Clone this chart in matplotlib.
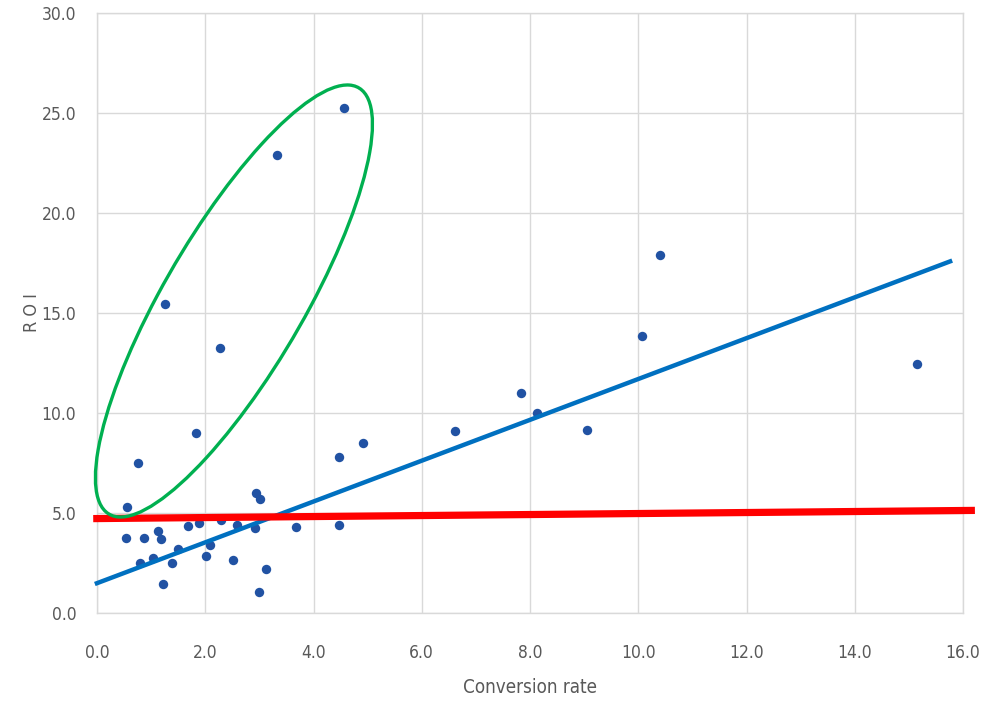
import numpy as np
import matplotlib
matplotlib.use("Agg")
import matplotlib.pyplot as plt
from matplotlib.patches import Ellipse

plt.rcParams['font.family'] = ['DejaVu Sans']
plt.rcParams['font.stretch'] = 'condensed'

# ---- data ----
conv_rate = [1.83, 0.75, 0.55, 0.54, 0.87, 1.12, 1.18, 0.79, 1.04, 1.39,
             1.49, 1.22, 1.68, 1.89, 2.30, 2.02, 2.09, 2.51, 2.59, 2.91,
             2.93, 3.01, 3.12, 3.00, 3.67, 4.47, 4.47, 4.91,
             1.26, 3.33, 4.56, 2.27,
             6.62, 7.83, 8.13, 9.05, 10.07, 10.40, 15.15]
roi = [9.0, 7.48, 5.28, 3.75, 3.75, 4.1, 3.68, 2.52, 2.77, 2.52,
       3.18, 1.45, 4.35, 4.48, 4.65, 2.85, 3.4, 2.65, 4.38, 4.27,
       6.02, 5.72, 2.2, 1.05, 4.28, 4.38, 7.78, 8.48,
       15.45, 22.9, 25.27, 13.25,
       9.12, 10.98, 10.01, 9.16, 13.84, 17.9, 12.45]

trend_x = [-0.04, 15.8]      # blue trend line end points
trend_y = [1.45, 17.62]
thresh_x = [-0.07, 16.22]    # red reference line end points
thresh_y = [4.72, 5.13]

# green highlight ellipse: centre and two conjugate semi-diameters (data units)
ell_center = (2.53, 15.6)
ell_a = (2.311, 10.65)
ell_b = (-1.10, 1.80)

xticks = np.arange(0, 16.1, 2.0)
yticks = np.arange(0, 30.1, 5.0)

# ---- figure ----
fig = plt.figure(figsize=(9.83, 7.02), dpi=100)
ax = fig.add_axes([97 / 983, 89 / 702, 866 / 983, 600 / 702])

grid_c = "#d9d9d9"
text_c = "#595959"

ax.set_xlim(0, 16)
ax.set_ylim(0, 30)
ax.set_xticks(xticks)
ax.set_yticks(yticks)
ax.set_xticklabels([f"{v:.1f}" for v in xticks])
ax.set_yticklabels([f"{v:.1f}" for v in yticks])
ax.grid(True, color=grid_c, lw=1.0)
ax.set_axisbelow(True)
for s in ax.spines.values():
    s.set_color(grid_c)
    s.set_linewidth(1.0)
ax.tick_params(length=0, labelsize=12.5, colors=text_c)
ax.tick_params(axis="x", pad=22)
ax.tick_params(axis="y", pad=15)

ax.scatter(conv_rate, roi, s=46, color="#2152A3", zorder=3, linewidths=0)

ax.plot(trend_x, trend_y, color="#0070C0", lw=3.2, zorder=4, clip_on=False,
        solid_capstyle="butt")
ax.plot(thresh_x, thresh_y, color="#FF0000", lw=5.2, zorder=5, clip_on=False,
        solid_capstyle="butt")

# ellipse principal axes from the conjugate semi-diameters
M = np.array([ell_a, ell_b]).T
U, S, _ = np.linalg.svd(M)
ang = np.degrees(np.arctan2(U[1, 0], U[0, 0]))
ax.add_patch(Ellipse(ell_center, 2 * S[0], 2 * S[1], angle=ang, fill=False,
                     edgecolor="#00B050", lw=2.4, zorder=6, clip_on=False))

ax.set_xlabel("Conversion rate", fontsize=13.5, color=text_c, labelpad=12)
ax.set_ylabel("R O I", fontsize=13, color=text_c, labelpad=0)

fig.savefig("out.png", dpi=100)
